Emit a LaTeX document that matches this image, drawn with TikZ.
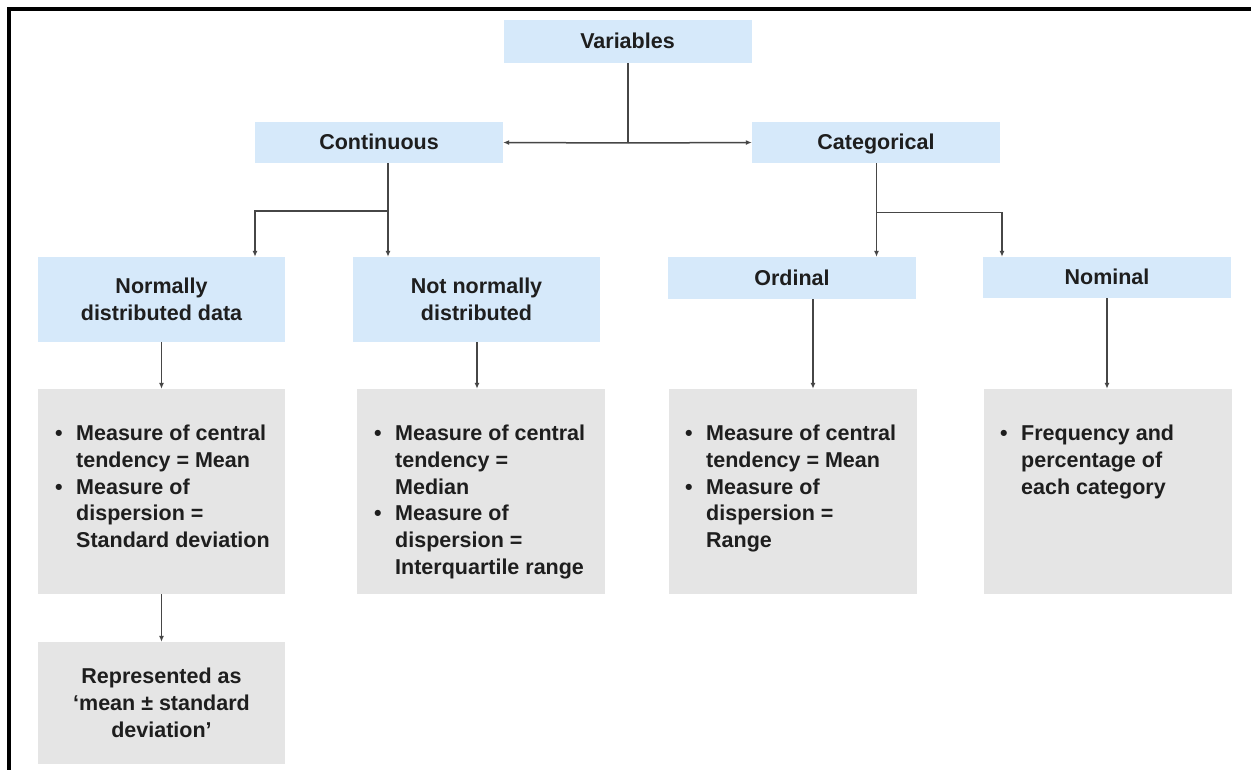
\documentclass[tikz,border=0pt]{standalone}
\usepackage{fontspec}
\setmainfont{Liberation Sans}
\usetikzlibrary{arrows.meta}
\definecolor{boxblue}{RGB}{214,233,250}
\definecolor{boxgray}{RGB}{229,229,229}
\definecolor{txt}{RGB}{30,30,30}
\definecolor{linec}{RGB}{70,70,70}
\tikzset{
  base/.style={inner sep=0pt, draw=none, text=txt, align=center,
    font=\fontsize{21.5}{26.7}\selectfont\bfseries},
  bluebox/.style={base, fill=boxblue, minimum width=248pt},
  graybox/.style={base, fill=boxgray, minimum width=248pt},
  oneline/.style={text height=16.5pt, text depth=1.5pt},
  arr/.style={-{Latex[length=6pt,width=5pt]}, line width=1.5pt, draw=linec},
  ln/.style={line width=1.5pt, draw=linec},
  listtxt/.style={inner sep=0pt, text=txt, anchor=north west,
    font=\fontsize{21.5}{26.7}\selectfont\bfseries}
}
\newcommand{\bl}{\textbullet}
\begin{document}
\begin{tikzpicture}[x=1pt,y=-1pt]
\useasboundingbox[fill=white] (0,0) rectangle (1251,770);
% frame
\draw[line width=4pt, black] (9,775) -- (9,9) -- (1256,9);

% blue boxes
\node[bluebox, oneline, minimum height=43pt] (var) at (627.5,41.5) {Variables};
\node[bluebox, oneline, minimum height=41pt] (cont) at (379,142.5) {Continuous};
\node[bluebox, oneline, minimum height=41pt] (cat) at (876,142.5) {Categorical};
\node[bluebox, minimum width=247pt, minimum height=85pt] (norm) at (161.5,299.5) {Normally\\distributed data};
\node[bluebox, minimum width=247pt, minimum height=85pt] (notn) at (476.5,299.5) {Not normally\\distributed};
\node[bluebox, oneline, minimum height=42pt] (ord) at (792,278) {Ordinal};
\node[bluebox, oneline, minimum height=41pt] (nom) at (1107,277.5) {Nominal};

% gray boxes
\node[graybox, minimum width=247pt, minimum height=205pt] (s1) at (161.5,491.5) {};
\node[graybox, minimum height=205pt] (s2) at (480.5,491.5) {};
\node[graybox, minimum height=205pt] (s3) at (792.5,491.5) {};
\node[graybox, minimum height=205pt] (s4) at (1107.5,491.5) {};
\node[graybox, minimum width=247pt, minimum height=122pt] (rep) at (161.5,703) {Represented as\\‘mean ± standard\\deviation’};

% list texts
\node[listtxt] (t1) at (55,422) {\begin{tabular}{@{}p{21pt}@{}l@{}}
\bl & Measure of central\\ & tendency = Mean\\ \bl & Measure of\\ & dispersion =\\ & Standard deviation\end{tabular}};
\node[listtxt] (t2) at (374,422) {\begin{tabular}{@{}p{21pt}@{}l@{}}
\bl & Measure of central\\ & tendency =\\ & Median\\ \bl & Measure of\\ & dispersion =\\ & Interquartile range\end{tabular}};
\node[listtxt] (t3) at (685,422) {\begin{tabular}{@{}p{21pt}@{}l@{}}
\bl & Measure of central\\ & tendency = Mean\\ \bl & Measure of\\ & dispersion =\\ & Range\end{tabular}};
\node[listtxt] (t4) at (1000,422) {\begin{tabular}{@{}p{21pt}@{}l@{}}
\bl & Frequency and\\ & percentage of\\ & each category\end{tabular}};

% connectors
\coordinate (j0) at (628,143);
\draw[ln] (j0 |- var.south) -- (j0);
\draw[arr] (j0) -- (cont.east);
\draw[arr] (j0) -- (cat.west);

\coordinate (j1) at (388,211);
\coordinate (j1l) at (255,211);
\draw[arr] (j1 |- cont.south) -- (j1 |- notn.north);
\draw[arr] (j1) -- (j1l) -- (j1l |- norm.north);

\coordinate (j2) at (876.5,212.5);
\coordinate (j2r) at (1002,212.5);
\draw[arr] (j2 |- cat.south) -- (j2 |- ord.north);
\draw[arr] (j2) -- (j2r) -- (j2r |- nom.north);

\draw[arr] (norm.south) -- (norm.south |- s1.north);
\draw[arr] (477,342) coordinate (n2) -- (n2 |- s2.north);
\coordinate (o2) at (813,299);
\draw[arr] (o2 |- ord.south) -- (o2 |- s3.north);
\draw[arr] (nom.south) -- (nom.south |- s4.north);
\draw[arr] (s1.south) -- (s1.south |- rep.north);
\end{tikzpicture}
\end{document}
